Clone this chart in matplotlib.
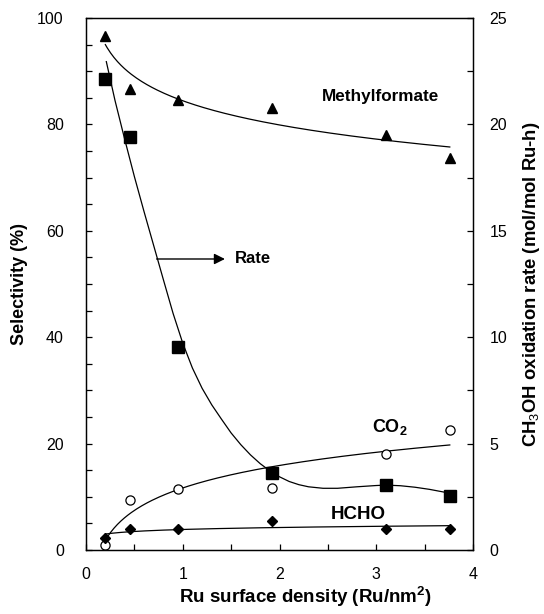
import numpy as np
import matplotlib.pyplot as plt
from matplotlib.ticker import MultipleLocator

plt.rcParams['font.family'] = 'Liberation Sans'
plt.rcParams['mathtext.fontset'] = 'custom'
plt.rcParams['mathtext.rm'] = 'Liberation Sans'
plt.rcParams['mathtext.bf'] = 'Liberation Sans:bold'

# Ru surface density (Ru/nm2)
ru_density = [0.2, 0.45, 0.95, 1.92, 3.1, 3.76]
# selectivities (%)
sel_mf = [96.6, 86.6, 84.6, 83.0, 78.0, 73.6]
sel_co2 = [0.9, 9.4, 11.4, 11.6, 18.05, 22.6]
sel_hcho = [2.3, 3.95, 3.95, 5.5, 3.9, 3.9]
# CH3OH oxidation rate (mol/mol Ru-h)
rate = [22.15, 19.4, 9.55, 3.6, 3.05, 2.55]

# hand-drawn guide line for the rate data (rate units)
rate_line_x = [0.21, 0.3, 0.4, 0.5, 0.6, 0.7, 0.8, 0.9, 1.0, 1.1, 1.2, 1.3,
               1.4, 1.5, 1.6, 1.7, 1.8, 1.9, 2.0, 2.1, 2.2, 2.3, 2.45, 2.6,
               2.8, 3.0, 3.1, 3.25, 3.4, 3.55, 3.76]
rate_line_y = [22.95, 21.12, 19.3, 17.55, 15.9, 14.3, 12.7, 11.12, 9.72,
               8.55, 7.6, 6.82, 6.15, 5.5, 4.95, 4.47, 4.06, 3.72, 3.44, 3.22,
               3.07, 2.97, 2.9, 2.9, 2.97, 3.03, 3.05, 3.02, 2.95, 2.85, 2.67]

x = np.array(ru_density)
xs = np.linspace(x.min(), x.max(), 200)

def log_trend(y):
    b, a = np.polyfit(np.log(x), y, 1)
    return a + b * np.log(xs)

fig = plt.figure(figsize=(5.44, 6.14), dpi=100)
ax = fig.add_axes([86/544, 1 - 550/614, 387/544, 532/614])
ax2 = ax.twinx()

lw = 0.9
# selectivity trendlines (logarithmic)
ax.plot(xs, log_trend(sel_mf), c='k', lw=lw)
ax.plot(xs, log_trend(sel_co2), c='k', lw=lw)
ax.plot(xs, log_trend(sel_hcho), c='k', lw=lw)
ax2.plot(rate_line_x, rate_line_y, c='k', lw=lw)

ax.plot(x, sel_mf, '^', c='k', ms=7.6, mec='k')
ax.plot(x, sel_co2, 'o', mfc='white', mec='k', ms=6.6, mew=0.9)
ax.plot(x, sel_hcho, 'D', c='k', ms=4.6)
ax2.plot(x, rate, 's', c='k', ms=8.4)

ax.set_xlim(0, 4)
ax.set_ylim(0, 100)
ax2.set_ylim(0, 25)

ax.xaxis.set_major_locator(MultipleLocator(1))
ax.xaxis.set_minor_locator(MultipleLocator(0.5))
ax.yaxis.set_major_locator(MultipleLocator(20))
ax.yaxis.set_minor_locator(MultipleLocator(5))
ax2.yaxis.set_major_locator(MultipleLocator(5))
ax2.yaxis.set_minor_locator(MultipleLocator(2.5))

ax.tick_params(axis='x', which='both', direction='in', length=4.5, width=0.9,
               labelsize=11.5, pad=12, top=False)
ax.tick_params(axis='y', which='both', direction='in', length=4.5, width=0.9,
               labelsize=11.5, pad=16, right=False)
ax2.tick_params(axis='y', which='both', direction='in', length=4.5, width=0.9,
                labelsize=11.5, pad=12)
for a in (ax, ax2):
    for s in a.spines.values():
        s.set_linewidth(0.9)

ax.set_xlabel('Ru surface density (Ru/nm$^\\mathbf{2}$)', fontsize=13.5, fontweight='bold')
ax.xaxis.set_label_coords(0.566, -0.065)
ax.xaxis.label.set_va('top')
ax.set_ylabel('Selectivity (%)', fontsize=13, fontweight='bold')
ax.yaxis.set_label_coords(-0.171, 0.5)
ax2.set_ylabel('CH$_3$OH oxidation rate (mol/mol Ru-h)', fontsize=13.3, fontweight='bold')
ax2.yaxis.set_label_coords(1.15, 0.5)
ax.yaxis.label.set_va('center')
ax2.yaxis.label.set_va('center')

ax.text(3.04, 85.2, 'Methylformate', fontsize=12.3, fontweight='bold', ha='center', va='center')
ax.text(3.14, 23.2, '$\\mathbf{CO_2}$', fontsize=13, ha='center', va='center')
ax.text(2.81, 6.6, 'HCHO', fontsize=13.5, fontweight='bold', ha='center', va='center')
ax.annotate('', xy=(1.436, 54.7), xytext=(0.73, 54.7),
            arrowprops=dict(arrowstyle='-|>', color='k', lw=1, mutation_scale=16,
                            shrinkA=0, shrinkB=0))
ax.text(1.54, 54.7, 'Rate', fontsize=12, fontweight='bold', ha='left', va='center')

fig.savefig('out.png', dpi=100)
